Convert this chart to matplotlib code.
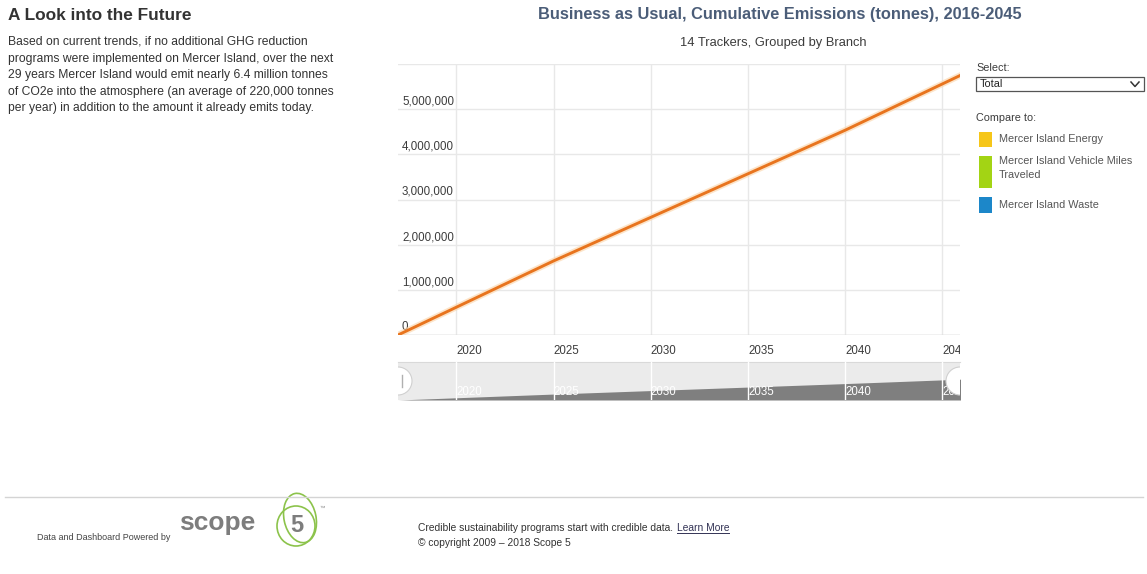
import matplotlib
matplotlib.use("Agg")
import matplotlib.pyplot as plt
from matplotlib.patches import Rectangle, Circle, Ellipse
from matplotlib.transforms import Bbox, TransformedBbox, offset_copy

plt.rcParams["font.family"] = ["Liberation Sans", "DejaVu Sans"]

W, H = 1147, 574

# Cumulative business-as-usual emissions (tonnes CO2e)
years = list(range(2017, 2047))
cumulative = [
    0, 205_000, 410_000, 615_000, 820_000, 1_025_000, 1_230_000, 1_435_000,
    1_640_000, 1_833_000, 2_026_000, 2_219_000, 2_412_000, 2_605_000,
    2_798_000, 2_991_000, 3_184_000, 3_377_000, 3_570_000, 3_763_000,
    3_956_000, 4_149_000, 4_342_000, 4_535_000, 4_740_000, 4_945_000,
    5_150_000, 5_355_000, 5_560_000, 5_765_000,
]

x_ticks = [2020, 2025, 2030, 2035, 2040, 2045]
y_ticks = [0, 1_000_000, 2_000_000, 3_000_000, 4_000_000, 5_000_000, 6_000_000]
y_labels = ["0", "1,000,000", "2,000,000", "3,000,000", "4,000,000", "5,000,000", ""]

title = "Business as Usual, Cumulative Emissions (tonnes), 2016-2045"
subtitle = "14 Trackers, Grouped by Branch"

intro_heading = "A Look into the Future"
intro_lines = [
    "Based on current trends, if no additional GHG reduction",
    "programs were implemented on Mercer Island, over the next",
    "29 years Mercer Island would emit nearly 6.4 million tonnes",
    "of CO2e into the atmosphere (an average of 220,000 tonnes",
    "per year) in addition to the amount it already emits today.",
]

compare_names = ["Mercer Island Energy",
                 "Mercer Island Vehicle Miles\nTraveled",
                 "Mercer Island Waste"]
compare_colors = ["#f6c619", "#a3d414", "#1c87c9"]

LINE_COLOR = "#e8741e"
GRID_COLOR = "#e8e8e8"
TEXT_COLOR = "#3c3c3c"
FS = 8.3


def box(l, t, r, b):
    """Pixel box (left, top, right, bottom) -> figure rect."""
    return [l / W, 1 - b / H, (r - l) / W, (b - t) / H]


fig = plt.figure(figsize=(W / 100, H / 100), dpi=100)
fig.patch.set_facecolor("white")

# ---- main chart ----
ax = fig.add_axes(box(398, 64, 960, 335))
ax.set_xlim(2017.0, 2045.9)
ax.set_ylim(0, 6_000_000)
ax.plot(years, cumulative, color="#fbd3a6", lw=4.5, alpha=0.6,
        solid_capstyle="round", zorder=3)
ax.plot(years, cumulative, color=LINE_COLOR, lw=2.1, zorder=4)

for s in ax.spines.values():
    s.set_visible(False)
ax.set_xticks(x_ticks)
ax.set_yticks(y_ticks)
ax.set_yticklabels([])
ax.grid(True, color=GRID_COLOR, lw=1)
ax.set_axisbelow(True)
ax.axhline(0, color="#cfcfcf", lw=1, zorder=2)
ax.tick_params(axis="y", length=0)
ax.tick_params(axis="x", length=0, pad=7, labelsize=FS, labelcolor=TEXT_COLOR)

# y labels sit inside the plot, just above their grid lines
ylab_tr = offset_copy(ax.get_yaxis_transform(), fig, x=4, y=1.5, units="dots")
for v, lab in zip(y_ticks, y_labels):
    ax.text(0, v, lab, transform=ylab_tr, ha="left", va="bottom",
            fontsize=FS, color=TEXT_COLOR, zorder=2)

clip_main = TransformedBbox(Bbox([[0, -1], [1.0, 2]]), ax.transAxes)
for t in ax.get_xticklabels():
    t.set_ha("left")
    t.set_clip_box(clip_main)
    t.set_clip_on(True)

# ---- navigator strip ----
nav = fig.add_axes(box(398, 362, 960, 400))
nav.set_facecolor("#ebebeb")
nav.set_xlim(2017.0, 2045.9)
nav.set_ylim(0, 10_500_000)
nav.fill_between(years, cumulative, 0, color="#7f7f7f", lw=0, zorder=2)
nav.set_xticks(x_ticks)
nav.set_yticks([])
nav.grid(True, axis="x", color="white", lw=1, zorder=3)
nav.set_axisbelow(False)
for name, s in nav.spines.items():
    s.set_visible(name == "top")
nav.spines["top"].set_color("#d9d9d9")
nav.tick_params(axis="x", length=0, pad=-10, labelsize=FS, labelcolor="white")
clip_nav = TransformedBbox(Bbox([[0, -1], [1.0, 2]]), nav.transAxes)
for t in nav.get_xticklabels():
    t.set_ha("left")
    t.set_zorder(5)
    t.set_clip_box(clip_nav)
    t.set_clip_on(True)

# ---- page overlay (pixel coordinates) ----
page = fig.add_axes([0, 0, 1, 1], zorder=10)
page.set_xlim(0, W)
page.set_ylim(H, 0)
page.axis("off")
page.patch.set_alpha(0)

# navigator handles
nav_clip = Rectangle((398, 362), 562, 38, transform=page.transData,
                     fill=False, lw=0)
for cx in (398, 960):
    c = Circle((cx, 381), 14, facecolor="white", edgecolor="#d0d0d0", lw=0.8)
    page.add_patch(c)
    c.set_clip_path(nav_clip)
page.plot([401.5, 401.5], [375, 387], color="#b0b0b0", lw=1)

# titles
page.text(780, 15, title, ha="center", va="center", fontsize=11.8,
          fontweight="bold", color="#4b5d78")
page.text(773, 43, subtitle, ha="center", va="center", fontsize=9.3,
          color=TEXT_COLOR)

# intro text
page.text(8, 15, intro_heading, ha="left", va="center", fontsize=12.4,
          fontweight="bold", color="#333333")
for i, line in enumerate(intro_lines):
    page.text(8, 42 + i * 16.6, line, ha="left", va="center", fontsize=8.75,
              color="#333333")

# select box and comparison list
page.text(976, 68, "Select:", ha="left", va="center", fontsize=7.8,
          color=TEXT_COLOR)
page.add_patch(Rectangle((976, 77), 168, 14, facecolor="white",
                         edgecolor="#555555", lw=0.9))
page.text(980, 84, "Total", ha="left", va="center", fontsize=7.8,
          color="#222222")
page.plot([1131, 1135, 1139], [82, 86.5, 82], color="#333333", lw=1.1)
page.text(976, 118, "Compare to:", ha="left", va="center", fontsize=7.8,
          color=TEXT_COLOR)
swatch_rows = [(132, 147), (156, 188), (197, 213)]
for (top, bot), name, color in zip(swatch_rows, compare_names, compare_colors):
    page.add_patch(Rectangle((979, top), 13, bot - top, facecolor=color, lw=0))
    if "\n" in name:
        page.text(999, top, name, ha="left", va="top", fontsize=7.8,
                  color="#555555", linespacing=1.55)
    else:
        page.text(999, top + 7.5, name, ha="left", va="center", fontsize=7.8,
                  color="#555555")

# footer
page.plot([5, 1143], [497, 497], color="#d4d4d4", lw=1)
page.text(37, 537, "Data and Dashboard Powered by", ha="left", va="center",
          fontsize=6.5, color="#444444")
page.text(179, 523, "scope", ha="left", va="center", fontsize=19,
          fontweight="bold", color="#7d7d7d")
page.add_patch(Ellipse((300, 518), 32, 50, angle=-12, fill=False,
                       edgecolor="#8cc34b", lw=1.2))
page.add_patch(Ellipse((296, 526), 38, 40, angle=0, fill=False,
                       edgecolor="#8cc34b", lw=1.2))
page.text(297, 525, "5", ha="center", va="center", fontsize=17,
          fontweight="bold", color="#7d7d7d")
page.text(319, 508, "\u2122", ha="left", va="center", fontsize=4, color="#888888")

credible = page.text(418, 528,
                     "Credible sustainability programs start with credible data. ",
                     ha="left", va="center", fontsize=7.4, color="#333333")
renderer = fig.canvas.get_renderer()
ext = credible.get_window_extent(renderer)
x_link = ext.x1 + 1
link = fig.text(x_link / W, 1 - 528 / H, "Learn More", ha="left", va="center",
                fontsize=7.4, color="#333355", zorder=11)
lext = link.get_window_extent(renderer)
page.plot([lext.x0, lext.x1], [533, 533], color="#333355", lw=0.7)
page.text(418, 543, "\u00a9 copyright 2009 \u2013 2018 Scope 5", ha="left",
          va="center", fontsize=7.4, color="#333333")

fig.savefig("out.png", dpi=100)
